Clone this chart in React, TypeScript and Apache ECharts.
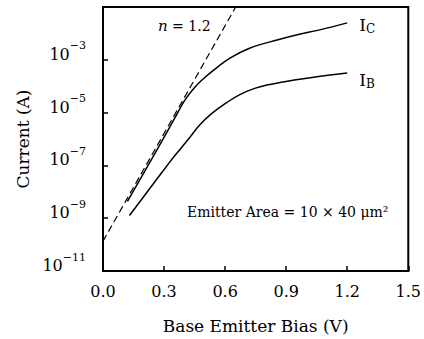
import React, { useEffect, useRef } from 'react';
import * as echarts from 'echarts';

// Base-emitter bias (V) and currents (A)
const icBias = [0.12, 0.265, 0.355, 0.40, 0.45, 0.50, 0.55, 0.62, 0.72, 0.86, 0.965, 1.065, 1.2];
const icCurrent = [4.3e-9, 3.85e-7, 6.7e-6, 2.8e-5, 9.0e-5, 2.14e-4, 4.47e-4, 1.11e-3, 2.75e-3, 5.74e-3, 9.25e-3, 1.36e-2, 2.5e-2];
const ibBias = [0.13, 0.34, 0.38, 0.43, 0.475, 0.535, 0.61, 0.67, 0.745, 0.82, 0.94, 1.06, 1.2];
const ibCurrent = [1.27e-9, 1.77e-7, 4.2e-7, 1.25e-6, 3.4e-6, 9.3e-6, 2.46e-5, 4.71e-5, 8.26e-5, 1.17e-4, 1.73e-4, 2.33e-4, 3.16e-4];
const idealBias = [0, 0.652];
const idealCurrent = [1.35e-10, 1e-1];

const xMin = 0;
const xMax = 1.5;
const xStep = 0.3;
const yMinExp = -11;
const yMaxExp = -1;
const yStepExp = 2;

const FONT = 'DejaVu Serif';

const toPoints = (xs: number[], ys: number[]) => xs.map((x, i) => [x, Math.log10(ys[i])]);

export default function App() {
  const ref = useRef<HTMLDivElement>(null);
  useEffect(() => {
    if (!ref.current) return;
    const chart = echarts.init(ref.current, undefined, { renderer: 'svg' });
    const curveStyle = { color: '#000', width: 1.5 };
    const labelRich = {
      i: { fontSize: 17, fontFamily: FONT, color: '#000', lineHeight: 20, verticalAlign: 'middle' },
      c: { fontSize: 12, fontFamily: FONT, color: '#000', lineHeight: 12, verticalAlign: 'bottom' },
    };
    chart.setOption({
      animation: false,
      backgroundColor: '#fff',
      grid: {
        left: 103,
        right: 15,
        top: 7,
        bottom: 66,
        show: true,
        borderColor: '#000',
        borderWidth: 2,
        containLabel: false,
      },
      xAxis: {
        type: 'value',
        min: xMin,
        max: xMax,
        interval: xStep,
        name: 'Base Emitter Bias (V)',
        nameLocation: 'middle',
        nameGap: 46,
        nameTextStyle: { fontSize: 17, fontFamily: FONT, color: '#000' },
        axisLine: { lineStyle: { color: '#000', width: 2 } },
        axisTick: { inside: true, length: 5, lineStyle: { color: '#000', width: 1.5 } },
        splitLine: { show: false },
        axisLabel: {
          margin: 12,
          fontSize: 16,
          fontFamily: FONT,
          color: '#000',
          formatter: (v: number) => v.toFixed(1),
        },
      },
      yAxis: {
        type: 'value',
        min: yMinExp,
        max: yMaxExp,
        interval: yStepExp,
        name: 'Current (A)',
        nameLocation: 'middle',
        nameRotate: 90,
        nameGap: 66,
        nameTextStyle: { fontSize: 17, fontFamily: FONT, color: '#000' },
        axisLine: { lineStyle: { color: '#000', width: 2 } },
        axisTick: { inside: true, length: 5, lineStyle: { color: '#000', width: 1.5 } },
        splitLine: { show: false },
        axisLabel: {
          margin: 17,
          padding: [0, 0, 17, 0],
          formatter: (v: number) => (v === yMaxExp ? '' : `{b|10}{s|\u2212${Math.abs(v)}}`),
          rich: {
            b: { fontSize: 16, fontFamily: FONT, color: '#000', lineHeight: 22, verticalAlign: 'bottom' },
            s: { fontSize: 11, fontFamily: FONT, color: '#000', lineHeight: 10, verticalAlign: 'top' },
          },
        },
      },
      series: [
        {
          type: 'line',
          name: 'n = 1.2',
          data: toPoints(idealBias, idealCurrent),
          symbol: 'none',
          lineStyle: { color: '#000', width: 1.2, type: [7, 4] },
          z: 1,
        },
        {
          type: 'line',
          name: 'IC',
          data: toPoints(icBias, icCurrent),
          smooth: 0.4,
          symbol: 'none',
          lineStyle: curveStyle,
          endLabel: {
            show: true,
            distance: 12,
            offset: [0, 2],
            formatter: '{i|I}{c|C}',
            rich: labelRich,
          },
          z: 2,
        },
        {
          type: 'line',
          name: 'IB',
          data: toPoints(ibBias, ibCurrent),
          smooth: 0.4,
          symbol: 'none',
          lineStyle: curveStyle,
          endLabel: {
            show: true,
            distance: 12,
            offset: [0, 7],
            formatter: '{i|I}{c|B}',
            rich: labelRich,
          },
          z: 2,
        },
      ],
      graphic: [
        {
          type: 'text',
          x: 158,
          y: 26,
          style: {
            text: '{it|n} = 1.2',
            fontSize: 14,
            fontFamily: FONT,
            fill: '#000',
            verticalAlign: 'middle',
            rich: {
              it: { fontSize: 15, fontFamily: FONT, fontStyle: 'italic', color: '#000' },
            },
          },
        },
        {
          type: 'text',
          x: 187,
          y: 212,
          style: {
            text: 'Emitter Area = 10 \u00d7 40 \u03bcm\u00b2',
            fontSize: 14,
            fontFamily: FONT,
            fill: '#000',
            verticalAlign: 'middle',
          },
        },
      ],
    });
    return () => chart.dispose();
  }, []);
  return (
    <div
      ref={ref}
      style={{ position: 'fixed', left: 0, top: 0, width: 424, height: 339, background: '#fff' }}
    />
  );
}
